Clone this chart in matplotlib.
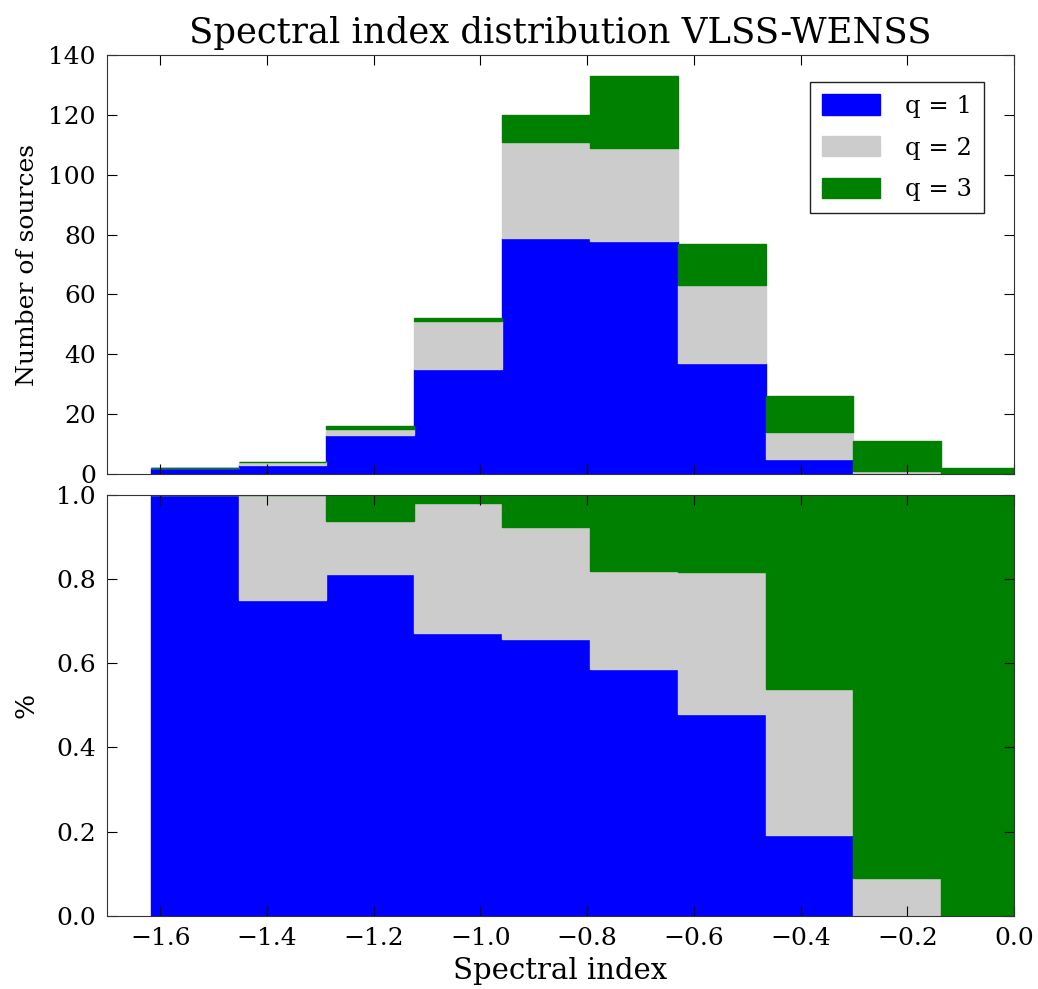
"""Stacked spectral index histograms (counts and fractions) per quality flag."""

import matplotlib
matplotlib.use("Agg")
import matplotlib.pyplot as plt
import numpy as np

# Histogram bin edges (spectral index) and counts per quality class
bin_edges = np.linspace(-1.618, 0.028, 11)
counts_q1 = np.array([2, 3, 13, 35, 79, 78, 37, 5, 0, 0])
counts_q2 = np.array([0, 1, 2, 16, 32, 31, 26, 9, 1, 0])
counts_q3 = np.array([0, 0, 1, 1, 9, 24, 14, 12, 10, 2])

labels = ["q = 1", "q = 2", "q = 3"]
colors = ["#0000ff", "#cccccc", "#008000"]

plt.rcParams["font.family"] = ["DejaVu Serif"]
plt.rcParams["mathtext.fontset"] = "dejavuserif"
plt.rcParams["xtick.direction"] = "in"
plt.rcParams["ytick.direction"] = "in"
plt.rcParams["xtick.top"] = True
plt.rcParams["ytick.right"] = True
plt.rcParams["xtick.major.size"] = 7
plt.rcParams["ytick.major.size"] = 7
plt.rcParams["xtick.major.pad"] = 8
plt.rcParams["ytick.major.pad"] = 8
plt.rcParams["axes.edgecolor"] = "#333333"


def stacked(ax, layers):
    left = bin_edges[:-1]
    width = np.diff(bin_edges)
    bottom = np.zeros(len(left))
    handles = []
    for vals, col, lab in zip(layers, colors, labels):
        h = ax.bar(left, vals, width=width, bottom=bottom, align="edge",
                   color=col, edgecolor=col, linewidth=1.0, label=lab)
        handles.append(h)
        bottom = bottom + vals
    return handles


def main() -> None:
    fig = plt.figure(figsize=(10.38, 9.89), dpi=100)
    ax1 = fig.add_axes([0.103, 0.521, 0.874, 0.423])
    ax2 = fig.add_axes([0.103, 0.074, 0.874, 0.4255])

    # Top: raw counts
    stacked(ax1, [counts_q1, counts_q2, counts_q3])
    ax1.set_xlim(-1.7, 0.0)
    ax1.set_ylim(0, 140)
    ax1.set_yticks(np.arange(0, 141, 20))
    ax1.set_xticks(np.arange(-1.6, 0.01, 0.2))
    ax1.tick_params(labelbottom=False, labelsize=18)
    ax1.set_ylabel("Number of sources", fontsize=18)
    ax1.set_title("Spectral index distribution VLSS-WENSS", fontsize=25.5, pad=9)
    leg = ax1.legend(loc="upper right", fontsize=17.5, handlelength=2.4,
                     handleheight=0.9, handletextpad=1.0, borderpad=0.5,
                     labelspacing=0.75, fancybox=False, framealpha=1,
                     bbox_to_anchor=(0.98, 0.965))
    leg.get_frame().set_edgecolor("#222222")

    # Bottom: fraction of sources per bin
    total = counts_q1 + counts_q2 + counts_q3
    frac = [counts_q1 / total, counts_q2 / total, counts_q3 / total]
    stacked(ax2, frac)
    ax2.set_xlim(-1.7, 0.0)
    ax2.set_ylim(0, 1.0)
    ax2.set_yticks(np.arange(0, 1.01, 0.2))
    ax2.set_xticks(np.arange(-1.6, 0.01, 0.2))
    ax2.tick_params(labelsize=18)
    ax2.set_ylabel("%", fontsize=19)
    ax2.set_xlabel("Spectral index", fontsize=21, labelpad=5)

    for ax in (ax1, ax2):
        ax.yaxis.set_label_coords(-0.075, 0.5)

    fig.savefig("out.png", dpi=100)
    plt.close(fig)


if __name__ == "__main__":
    main()
